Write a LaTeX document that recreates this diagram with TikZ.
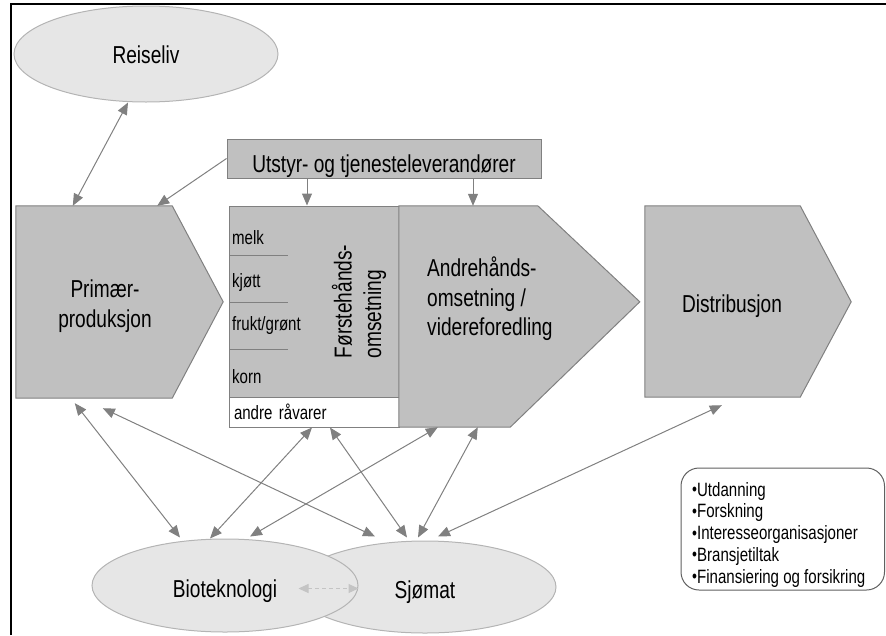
\documentclass[tikz,border=0pt]{standalone}
\usepackage{fontspec}
\setmainfont{Liberation Sans}[FakeStretch=0.78]
\usepackage{xcolor}
\usepackage{tikz}
\usetikzlibrary{shapes.geometric,arrows.meta}

\definecolor{boxgray}{HTML}{C0C0C0}
\definecolor{edgegray}{HTML}{808080}
\definecolor{ovalfill}{HTML}{E6E6E6}
\definecolor{ovaledge}{HTML}{B4B4B4}
\definecolor{linkgray}{HTML}{808080}
\definecolor{dashgray}{HTML}{C4C4C4}
\definecolor{infoedge}{HTML}{606060}

\newcommand\bigtxt{\fontsize{24.5}{29.5}\selectfont}
\newcommand\smalltxt{\fontsize{19.3}{21.8}\selectfont}
\newcommand\dotmark{\raisebox{0.5pt}{\fontsize{18}{18}\selectfont\textbullet}}

\begin{document}
\begin{tikzpicture}[x=1pt,y=-1pt,
    oval/.style={ellipse,fill=ovalfill,draw=ovaledge,line width=1pt,font=\bigtxt,text depth=0pt},
    block/.style={fill=boxgray,draw=edgegray,line width=1pt},
    hull/.style={draw=none,fill=none},
    lbl/.style={font=\bigtxt},
    smalllbl/.style={font=\smalltxt},
    link/.style={linkgray,line width=1pt,{Triangle[length=12pt,width=10pt]}-{Triangle[length=12pt,width=10pt]}},
    feed/.style={linkgray,line width=1pt,-{Triangle[length=12pt,width=10pt]}},
    loose/.style={dashgray,line width=1pt,dash pattern=on 4pt off 3pt,{Triangle[length=10pt,width=9pt]}-{Triangle[length=10pt,width=9pt]}}]
    \tikzstyle{every node}+=[inner sep=0pt]
    \useasboundingbox (0,0) rectangle (886,635);
    \draw[line width=1.5pt] (11,635) -- (11,4) -- (886,4);

    % top: reiseliv and suppliers
    \node[oval,minimum width=264,minimum height=96,text height=18.6pt] (reise) at (146,54) {Reiseliv};
    \node[block,minimum width=314,minimum height=39,font=\bigtxt,text height=28.4pt,text depth=0pt] (util) at (384,158.5) {Utstyr- og tjenesteleverandører};

    % value chain
    \node[hull,minimum width=156,minimum height=192] (prim) at (94,302) {};
    \filldraw[block] (prim.north west) -- (prim.north east) -- ++(51,96) -- (prim.south east) -- (prim.south west) -- cycle;
    \node[lbl,align=center] (primtxt) at (105,306) {Primær-\\produksjon};

    \node[block,minimum width=170,minimum height=191] (frst) at (314,301.5) {};
    \node[draw=edgegray,fill=white,line width=1pt,minimum width=170,minimum height=30,text width=160,align=left,inner xsep=5pt,font=\smalltxt] (rawmat) at (314,412) {andre råvarer};
    \foreach \yy in {255,302,349}
        \draw[edgegray,line width=1pt] (229,\yy) -- (288,\yy);
    \foreach \nm/\txt/\yy in {melk/melk/244,kjott/kjøtt/287,frukt/{frukt/grønt}/330,korn/korn/383}
        \node[smalllbl,anchor=base west] (\nm) at (232,\yy) {\txt};
    \node[lbl,rotate=90,align=left] (frsttxt) at (359,301.5) {Førstehånds-\\omsetning};

    \node[hull,minimum width=111,minimum height=221] (sec) at (454.5,316.5) {};
    \filldraw[block] (sec.north west) -- ++(139,0) -- ++(102,96) -- (sec.south east) -- (sec.south west) -- cycle;
    \node[lbl,align=left,anchor=west] (sectxt) at (427,299) {Andrehånds-\\omsetning /\\videreforedling};

    \node[hull,minimum width=155,minimum height=191] (dist) at (722.5,301.5) {};
    \filldraw[block] (dist.north west) -- (dist.north east) -- ++(51,96) -- (dist.south east) -- (dist.south west) -- cycle;
    \node[lbl] (disttxt) at (732,306) {Distribusjon};

    % bottom ovals
    \node[oval,minimum width=262,minimum height=92,text height=22pt] (sjo) at (425,587) {Sjømat};
    \node[oval,minimum width=266,minimum height=93,text height=23pt] (bio) at (225,585.5) {Bioteknologi};

    % support box
    \node[draw=infoedge,rounded corners=18pt,line width=1pt,minimum width=203.5,minimum height=122] (info) at (782.75,529) {};
    \node[smalllbl,align=left,anchor=west] (infotxt) at (692,534.6) {\dotmark Utdanning\\\dotmark Forskning\\\dotmark Interesseorganisasjoner\\\dotmark Bransjetiltak\\\dotmark Finansiering og forsikring};

    % connectors
    \draw[link] ([xshift=-18pt]reise.south) -- ([xshift=57pt]prim.north west);
    \draw[feed] (util.west) -- ([xshift=-15pt]prim.north east);
    \draw[feed] ([xshift=-77pt]util.south) -- ([xshift=-77pt]util.south |- frst.north);
    \draw[feed] ([xshift=89pt]util.south) -- ([xshift=89pt]util.south |- sec.north);
    \draw[link] ([xshift=59pt,yshift=-5pt]prim.south west) -- ([xshift=-45pt,yshift=1pt]bio.north);
    \draw[link] ([xshift=-2pt]rawmat.south) -- ([xshift=-15pt]bio.north);
    \draw[link] ([xshift=39pt]sec.south west) -- ([xshift=25pt,yshift=2pt]bio.north);
    \draw[link] ([xshift=87pt,yshift=-10pt]prim.south west) -- ([xshift=-50pt,yshift=4pt]sjo.north);
    \draw[link] ([xshift=16pt]rawmat.south) -- ([xshift=-18pt,yshift=3pt]sjo.north);
    \draw[link] ([xshift=79pt]sec.south west) -- ([xshift=-7pt,yshift=3pt]sjo.north);
    \draw[link] ([xshift=77pt,yshift=-8pt]dist.south west) -- ([xshift=13pt,yshift=4pt]sjo.north);
    \draw[loose] ([xshift=-60pt,yshift=-3pt]bio.east) -- ([yshift=-3pt]bio.east);
\end{tikzpicture}
\end{document}
